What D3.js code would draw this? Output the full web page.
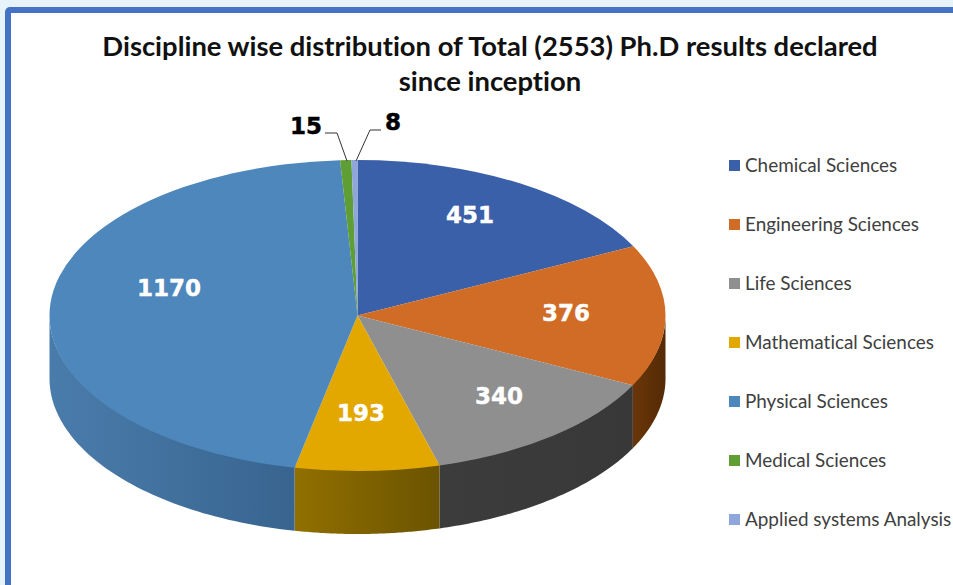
<!DOCTYPE html>
<html><head><meta charset="utf-8">
<script src="https://cdnjs.cloudflare.com/ajax/libs/d3/7.8.5/d3.min.js"></script>
<style>html,body{margin:0;padding:0;background:#e6f3fb;overflow:hidden}svg{display:block}text{font-variant-ligatures:none}</style>
</head><body><svg id="c" width="953" height="585"></svg>
<script>
const categories=["Chemical Sciences","Engineering Sciences","Life Sciences","Mathematical Sciences","Physical Sciences","Medical Sciences","Applied systems Analysis"];
const values=[451,376,340,193,1170,15,8];
const topColors=["#3a60aa","#d06c26","#8f8f8f","#e2a800","#4d87bb","#5f9e35","#8ea6da"];
const sideLight=["#23396a","#6a3608","#3c3c3c","#917000","#4a7cab","#38601f","#55658a"];
const sideDark=["#23396a","#552a06","#383838","#6b5300","#38648f","#38601f","#55658a"];
const titleLines=["Discipline wise distribution of Total (2553) Ph.D results declared","since inception"];
const labelPos=[[470,215],[566,313],[499,396],[361,413],[169,288]];

const cx=357.5,cy=315.5,rx=308,ry=155.5,depth=63;
const svg=d3.select("#c");
svg.append("rect").attr("x",8).attr("y",10).attr("width",960).attr("height",590).attr("fill","#fff").attr("stroke","#4472c4").attr("stroke-width",6).attr("rx",2);

const pie=d3.pie().sort(null).value(d=>d);
const arcs=pie(values);
const px=a=>cx+rx*Math.sin(a), py=(a,k=1)=>cy-k*ry*Math.cos(a);
const defs=svg.append("defs");

// side wall: the front-facing part of every slice
const hw=Math.PI/2, lw=3*Math.PI/2;
arcs.forEach((d,i)=>{
  const a0=Math.max(d.startAngle,hw), a1=Math.min(d.endAngle,lw);
  if(a1<=a0) return;
  const g=defs.append("linearGradient").attr("id","s"+i).attr("gradientUnits","userSpaceOnUse")
    .attr("x1",px(a1)).attr("x2",px(a0)).attr("y1",0).attr("y2",0);
  g.append("stop").attr("offset",0).attr("stop-color",sideLight[i]);
  g.append("stop").attr("offset",1).attr("stop-color",sideDark[i]);
  const p=d3.path();
  const n=60;
  p.moveTo(px(a0),py(a0,.985));
  d3.range(1,n+1).forEach(k=>{const a=a0+(a1-a0)*k/n;p.lineTo(px(a),py(a,.985));});
  d3.range(n,-1,-1).forEach(k=>{const a=a0+(a1-a0)*k/n;p.lineTo(px(a),py(a)+depth);});
  p.closePath();
  svg.append("path").attr("d",p.toString()).attr("fill","url(#s"+i+")");
});

// top face: d3.arc squashed into the ellipse
const arc=d3.arc().innerRadius(0).outerRadius(rx);
svg.append("g").attr("transform",`translate(${cx},${cy}) scale(1,${ry/rx})`)
  .selectAll("path").data(arcs).join("path").attr("d",arc).attr("fill",(d,i)=>topColors[i]);

// title
svg.selectAll("text.t").data(titleLines).join("text").attr("class","t")
  .attr("x",490).attr("y",(d,i)=>[56,91][i]).attr("text-anchor","middle")
  .attr("font-family","Lato").attr("font-weight",700).attr("font-size",27.4).attr("fill","#111").text(d=>d);

// value labels on the slices
svg.selectAll("text.v").data(labelPos).join("text").attr("class","v")
  .attr("x",d=>d[0]).attr("y",d=>d[1]+8).attr("text-anchor","middle")
  .attr("font-family","DejaVu Sans").attr("font-weight",700).attr("font-size",23).attr("fill","#fff")
  .attr("stroke","#fff").attr("stroke-width",0.4).text((d,i)=>values[i]);

// small slices: outside labels + leaders
const outside=[{i:5,x:306,y:134,line:[[325,133],[337,133],[347,161]]},{i:6,x:393,y:130,line:[[381,130],[370,130],[356,161]]}];
svg.selectAll("text.o").data(outside).join("text").attr("class","o")
  .attr("x",d=>d.x).attr("y",d=>d.y).attr("text-anchor","middle")
  .attr("font-family","DejaVu Sans").attr("font-weight",700).attr("font-size",23)
  .attr("fill","#000").attr("stroke","#000").attr("stroke-width",0.5).text(d=>values[d.i]);
svg.selectAll("path.l").data(outside).join("path").attr("class","l")
  .attr("d",d=>d3.line()(d.line)).attr("fill","none").attr("stroke","#333").attr("stroke-width",1);

// legend
const ly=d3.scalePoint().domain(categories).range([165,519]);
const leg=svg.selectAll("g.lg").data(categories).join("g").attr("class","lg").attr("transform",d=>`translate(729,${ly(d)})`);
leg.append("rect").attr("x",0).attr("y",-5).attr("width",11).attr("height",11).attr("fill",(d,i)=>topColors[i]);
leg.append("text").attr("x",16).attr("y",6.5).attr("font-family","Lato").attr("font-size",18.9).attr("fill","#404040").text(d=>d);
</script></body></html>
